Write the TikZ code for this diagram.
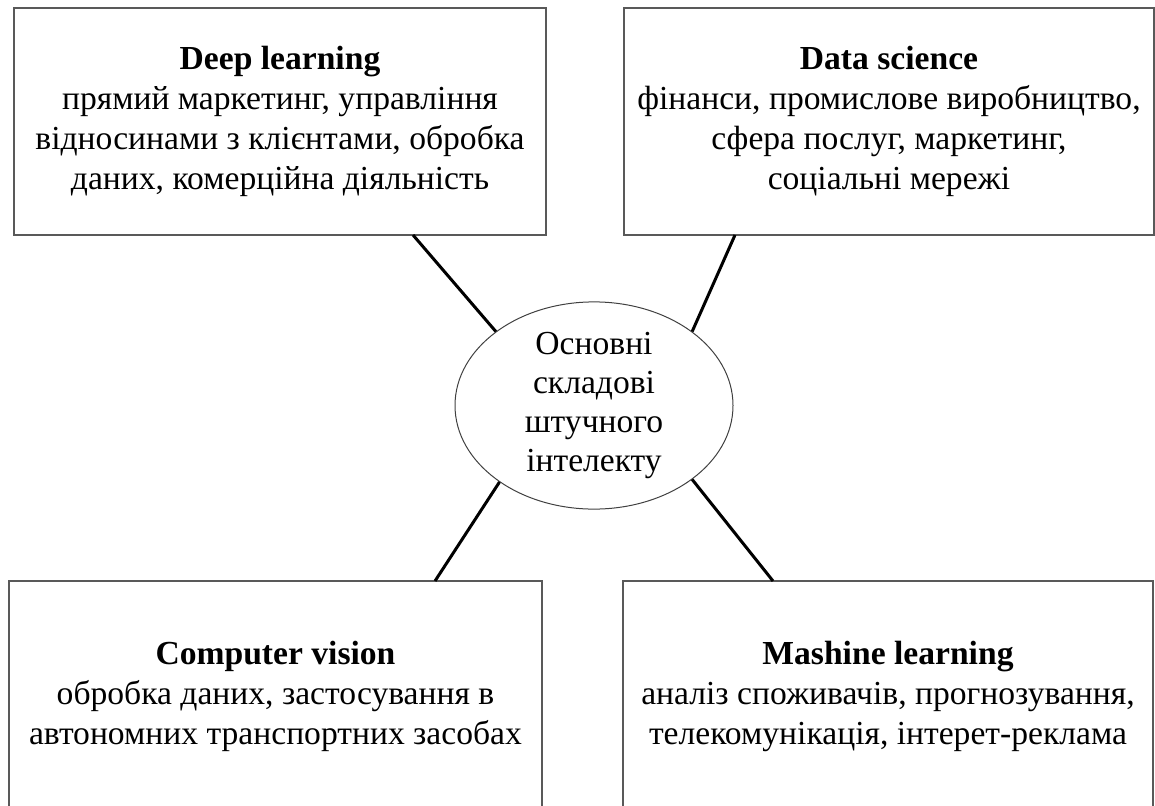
\documentclass[tikz,border=0pt]{standalone}
\usepackage{fontspec}
\setmainfont{Liberation Serif}
\usetikzlibrary{shapes.geometric}
\begin{document}
\begin{tikzpicture}[x=1pt,y=-1pt,
  box/.style={draw=black!65,line width=1.5pt,rectangle,inner sep=0pt,align=center,
    font=\fontsize{33.6}{40}\selectfont},
  hub/.style={draw=black!75,line width=1pt,ellipse,minimum width=278pt,minimum height=205pt,
    inner sep=0pt,align=center,font=\fontsize{33.6}{39}\selectfont},
  link/.style={line width=3pt,black}]
\useasboundingbox (0,0) rectangle (1155,805);
\node[box,minimum width=532pt,minimum height=227pt] (dl) at (280,121.5)
  {\textbf{Deep learning}\\прямий маркетинг, управління\\відносинами з клієнтами, обробка\\даних, комерційна діяльність};
\node[box,minimum width=530pt,minimum height=227pt] (ds) at (889,121.5)
  {\textbf{Data science}\\фінанси, промислове виробництво,\\сфера послуг, маркетинг,\\соціальні мережі};
\node[box,minimum width=533pt,minimum height=231pt] (cv) at (275.5,696.5)
  {\textbf{Computer vision}\\обробка даних, застосування в\\автономних транспортних засобах};
\node[box,minimum width=530pt,minimum height=231pt] (ml) at (888,696.5)
  {\textbf{Mashine learning}\\аналіз споживачів, прогнозування,\\телекомунікація, інтерет-реклама};
\node[hub] (c) at (594,405.5) {Основні\\складові\\штучного\\інтелекту};
\coordinate (p1) at (413,235);
\coordinate (p2) at (735,235);
\coordinate (p3) at (435,581);
\coordinate (p4) at (773,581);
\draw[link] (p1) -- (c.143.4);
\draw[link] (p2) -- (c.37.4);
\draw[link] (p3) -- (c.219.5);
\draw[link] (p4) -- (c.-37.2);
\end{tikzpicture}
\end{document}
